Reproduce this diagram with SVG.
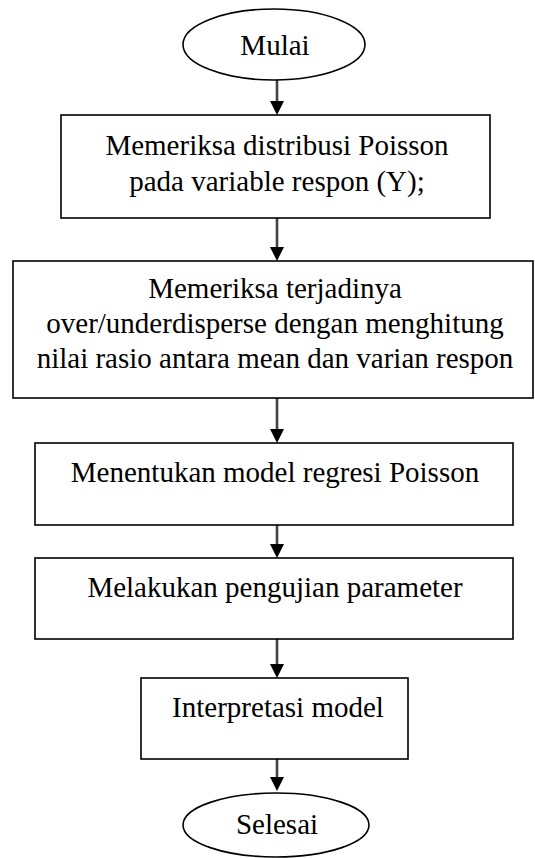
<svg xmlns="http://www.w3.org/2000/svg" width="535" height="858" viewBox="0 0 535 858">
<style>
.b{fill:#fff;stroke:#000;stroke-width:1.6}
.t{font-family:"Liberation Serif","Times New Roman",serif;font-size:29px;fill:#000;text-anchor:middle}
.c{stroke:#444;stroke-width:2.6;fill:none}
.h{fill:#000}
</style>
<rect width="535" height="858" fill="#fff"/>
<g id="connectors">
<line class="c" x1="277" y1="80" x2="277" y2="102"/><polygon class="h" points="270,101 284,101 277,115"/>
<line class="c" x1="277" y1="218" x2="277" y2="248"/><polygon class="h" points="270,247 284,247 277,261"/>
<line class="c" x1="277" y1="398" x2="277" y2="430"/><polygon class="h" points="270,429 284,429 277,443"/>
<line class="c" x1="277" y1="525" x2="277" y2="545"/><polygon class="h" points="270,544 284,544 277,558"/>
<line class="c" x1="277" y1="639" x2="277" y2="665"/><polygon class="h" points="270,664 284,664 277,678"/>
<line class="c" x1="277" y1="759" x2="277" y2="778"/><polygon class="h" points="270,777 284,777 277,791"/>
</g>
<g id="mulai"><ellipse class="b" cx="274" cy="44.5" rx="91" ry="35.5"/><text class="t" x="275" y="55">Mulai</text></g>
<g id="box1"><rect class="b" x="61" y="115" width="429" height="103"/><text class="t" x="277" y="155">Memeriksa distribusi Poisson</text><text class="t" x="277" y="191">pada variable respon (Y);</text></g>
<g id="box2"><rect class="b" x="13" y="261" width="520" height="137"/><text class="t" x="275" y="298">Memeriksa terjadinya</text><text class="t" x="275" y="333">over/underdisperse dengan menghitung</text><text class="t" x="275" y="368">nilai rasio antara mean dan varian respon</text></g>
<g id="box3"><rect class="b" x="35" y="443" width="478" height="82"/><text class="t" x="275" y="482">Menentukan model regresi Poisson</text></g>
<g id="box4"><rect class="b" x="35" y="558" width="478" height="81"/><text class="t" x="275" y="597">Melakukan pengujian parameter</text></g>
<g id="box5"><rect class="b" x="141" y="678" width="267" height="81"/><text class="t" x="278" y="717">Interpretasi model</text></g>
<g id="selesai"><ellipse class="b" cx="276" cy="825" rx="93" ry="32"/><text class="t" x="277" y="834">Selesai</text></g>
</svg>
